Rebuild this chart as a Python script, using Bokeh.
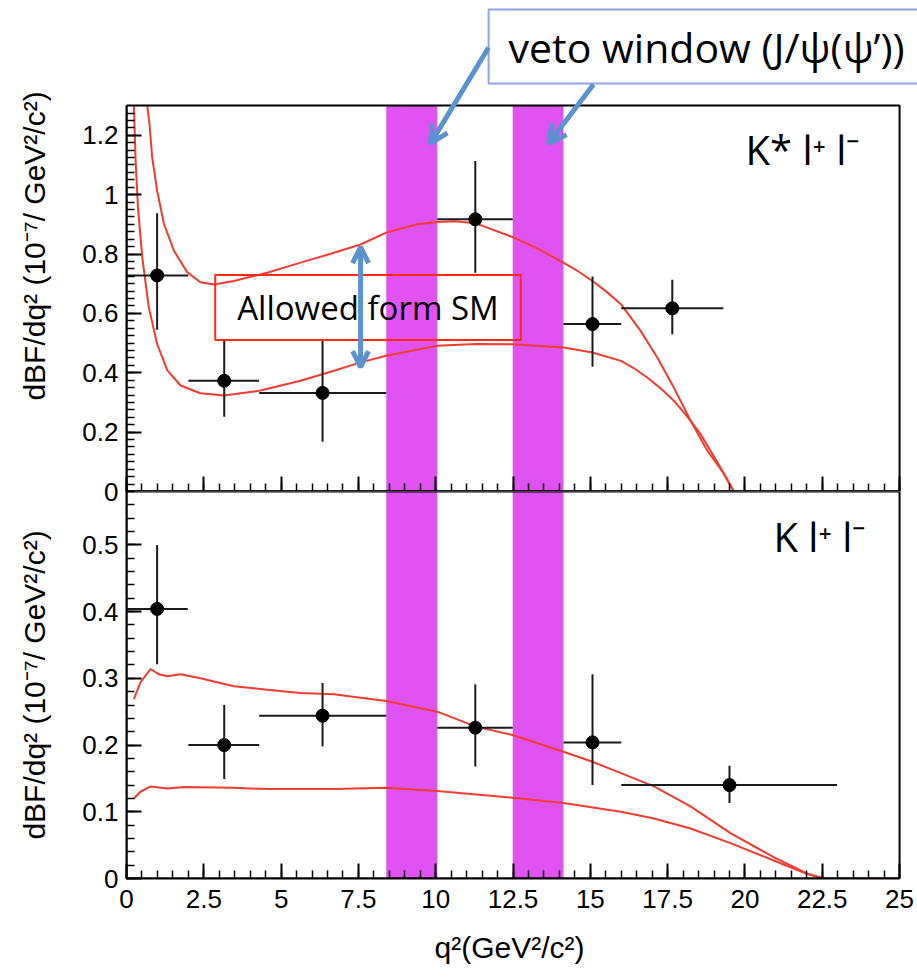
from bokeh.plotting import figure
from bokeh.layouts import column
from bokeh.models import (Range1d, SingleIntervalTicker, FixedTicker, NumeralTickFormatter,
                          Label, Arrow, OpenHead, LinearAxis, BoxAnnotation)
from bokeh.embed import file_html
from bokeh.resources import INLINE

# ---------------- data ----------------
x_max = 25.0
x_view_max = 25.58
kst_ymax = 1.3
k_ymax = 0.58

x_tick_values = [0, 2.5, 5, 7.5, 10, 12.5, 15, 17.5, 20, 22.5, 25]
x_minor_ticks = [i * 0.5 for i in range(51)]

veto_lo = [8.40, 12.49]
veto_hi = [10.05, 14.13]

# K* l+ l- measurements
kst_x = [0.99, 3.16, 6.34, 11.28, 15.07, 17.65]
kst_y = [0.728, 0.373, 0.332, 0.917, 0.564, 0.617]
kst_xlo = [0.0, 2.0, 4.29, 10.05, 14.13, 16.0]
kst_xhi = [2.0, 4.29, 8.40, 12.49, 16.0, 19.30]
kst_ylo = [0.545, 0.252, 0.168, 0.737, 0.420, 0.530]
kst_yhi = [0.937, 0.510, 0.510, 1.113, 0.724, 0.713]

# K* SM band curves
kst_up_x = [0.67, 0.744, 0.83, 0.99, 1.21, 1.53, 1.96, 2.39, 2.82, 3.47, 4.55,
            5.63, 6.71, 7.57, 8.40, 9.40, 10.05, 10.60, 11.28, 12.49, 13.30, 14.13, 14.60,
            15.07, 15.50, 15.99, 16.62, 17.16, 17.70, 18.24, 18.78, 19.32, 19.64]
kst_up_y = [1.30, 1.238, 1.126, 1.014, 0.902, 0.812, 0.739, 0.705, 0.697, 0.709, 0.737,
            0.771, 0.804, 0.832, 0.872, 0.900, 0.908, 0.910, 0.904, 0.857, 0.818, 0.771, 0.742,
            0.709, 0.675, 0.631, 0.542, 0.452, 0.350, 0.239, 0.138, 0.060, 0.0]
kst_lo_x = [0.24, 0.29, 0.37, 0.51, 0.72, 0.99, 1.32, 1.75, 2.39, 3.15, 4.33, 5.63,
            6.71, 7.57, 8.40, 10.05, 11.30, 12.49, 14.13, 15.07, 15.99, 16.40, 16.84,
            17.27, 17.70, 18.13, 18.56, 19.10, 19.64]
kst_lo_y = [1.30, 1.126, 0.958, 0.789, 0.621, 0.497, 0.408, 0.357, 0.331, 0.323, 0.340, 0.373,
            0.407, 0.435, 0.457, 0.491, 0.497, 0.496, 0.485, 0.468, 0.440, 0.416, 0.384,
            0.348, 0.306, 0.253, 0.194, 0.100, 0.0]

# K l+ l- measurements
k_x = [0.99, 3.16, 6.34, 11.28, 15.07, 19.50]
k_y = [0.404, 0.200, 0.244, 0.226, 0.204, 0.140]
k_xlo = [0.0, 2.0, 4.29, 10.05, 14.13, 16.0]
k_xhi = [1.98, 4.29, 8.40, 12.49, 16.0, 22.98]
k_ylo = [0.321, 0.149, 0.198, 0.168, 0.140, 0.113]
k_yhi = [0.500, 0.260, 0.293, 0.291, 0.306, 0.169]

# K SM band curves
k_up_x = [0.24, 0.45, 0.78, 1.05, 1.32, 1.75, 2.39, 3.47, 4.55, 5.63, 6.71, 7.57, 8.40,
          10.05, 11.28, 12.49, 14.13, 15.07, 15.99, 17.06, 18.24, 19.53, 20.93, 22.0, 22.55, 25.0]
k_up_y = [0.269, 0.294, 0.314, 0.306, 0.303, 0.306, 0.300, 0.288, 0.283, 0.278, 0.276, 0.271, 0.266,
          0.250, 0.228, 0.215, 0.190, 0.175, 0.158, 0.138, 0.108, 0.068, 0.032, 0.0075, 0.0, 0.0]
k_lo_x = [0.24, 0.45, 0.78, 1.32, 1.86, 3.47, 4.55, 6.71, 8.40, 10.05, 12.49, 14.13, 15.99,
          17.06, 18.24, 19.53, 20.93, 22.0, 22.55]
k_lo_y = [0.120, 0.130, 0.138, 0.135, 0.137, 0.136, 0.134, 0.134, 0.136, 0.131, 0.121, 0.113, 0.100,
          0.090, 0.075, 0.053, 0.027, 0.007, 0.0]

x_title = "q²(GeV²/c²)\u00a0\u00a0\u00a0"
y_title = "dBF/dq² (10⁻⁷/ GeV²/c²)"

# ---------------- style ----------------
RED = "#f03c30"
BAND = "#e052f2"
BLUE = "#5b93cf"
TICK_FONT = "Liberation Sans"


def style_axis(ax):
    ax.formatter = NumeralTickFormatter(format="0.[0]")
    ax.axis_line_width = 2
    ax.axis_line_color = "black"
    ax.major_tick_in = 15
    ax.major_tick_out = 0
    ax.minor_tick_in = 8
    ax.minor_tick_out = 0
    ax.major_tick_line_width = 2
    ax.minor_tick_line_width = 1.5
    ax.major_tick_line_color = "black"
    ax.minor_tick_line_color = "black"
    ax.major_label_text_font = TICK_FONT
    ax.major_label_text_font_size = "26px"
    ax.major_label_text_color = "black"
    ax.axis_label_text_font = TICK_FONT
    ax.axis_label_text_font_size = "30px"
    ax.axis_label_text_font_style = "normal"
    ax.axis_label_text_color = "black"


def style_fig(p, y_interval, y_minor, ymax):
    p.yaxis.ticker = SingleIntervalTicker(interval=y_interval, num_minor_ticks=y_minor)
    for ax in list(p.xaxis) + list(p.yaxis):
        style_axis(ax)
    p.yaxis.bounds = (0, ymax)
    p.xaxis.bounds = (0, x_max)
    p.yaxis.major_label_standoff = 8
    p.yaxis.axis_label = y_title
    p.yaxis.axis_label_standoff = 28
    p.xgrid.visible = False
    p.ygrid.visible = False
    p.outline_line_color = None
    p.background_fill_color = "white"
    p.add_layout(BoxAnnotation(left=0, right=x_max, bottom=0, top=ymax,
                               fill_alpha=0, line_color="black", line_alpha=1,
                               line_width=2))


def draw_panel(p, ymax, xs, ys, xlo, xhi, ylo, yhi, curves):
    p.quad(left=veto_lo, right=veto_hi, bottom=0, top=ymax,
           fill_color=BAND, line_color=None)
    for cx, cy in curves:
        p.line(cx, cy, line_color=RED, line_width=2)
    p.segment(x0=xlo, y0=ys, x1=xhi, y1=ys, line_color="#1a1a1a", line_width=2)
    p.segment(x0=xs, y0=ylo, x1=xs, y1=yhi, line_color="#1a1a1a", line_width=2)
    p.scatter(xs, ys, size=13, color="black")


# ---------------- top panel (K* l+ l-) ----------------
p1 = figure(width=917, height=505, output_backend="svg", toolbar_location=None,
            x_range=Range1d(0, x_view_max), y_range=Range1d(0, 1.654),
            min_border_left=126, min_border_right=0, min_border_top=0,
            min_border_bottom=14)
p1.xaxis.ticker = FixedTicker(ticks=[], minor_ticks=x_minor_ticks)
style_fig(p1, 0.2, 8, kst_ymax)
p1.border_fill_color = "white"
major_x = LinearAxis(ticker=FixedTicker(ticks=[], minor_ticks=x_tick_values))
style_axis(major_x)
major_x.minor_tick_in = 15
major_x.minor_tick_line_width = 2
major_x.bounds = (0, x_max)
p1.add_layout(major_x, "below")

draw_panel(p1, kst_ymax, kst_x, kst_y, kst_xlo, kst_xhi, kst_ylo, kst_yhi,
           [(kst_up_x, kst_up_y), (kst_lo_x, kst_lo_y)])

p1.add_layout(Label(x=7.81, y=0.620, text="Allowed form SM", text_font="Open Sans",
                    text_font_size="33px", text_align="center", text_baseline="middle",
                    text_color="black", border_line_color="#ff2a14", border_line_width=2,
                    padding=(22, 10)))
p1.add_layout(Arrow(x_start=7.57, y_start=0.419, x_end=7.57, y_end=0.823,
                    line_color=BLUE, line_width=5,
                    start=OpenHead(size=16, line_color=BLUE, line_width=5),
                    end=OpenHead(size=16, line_color=BLUE, line_width=5)))
p1.add_layout(Label(x=20.02, y=1.061, text="K* l⁺ l⁻", text_font="Open Sans",
                    text_font_size="40px", text_color="black"))

p1.add_layout(Label(x=11.71, y=1.499, text="veto window (J/ψ(ψ’))", text_font="Open Sans",
                    text_font_size="41px", text_align="left", text_baseline="middle",
                    text_color="black", background_fill_color="white",
                    border_line_color="#8fa3f2", border_line_width=2, padding=(20, 9)))
p1.add_layout(Arrow(x_start=11.71, y_start=1.4956, x_end=9.83, y_end=1.172,
                    line_color=BLUE, line_width=5,
                    end=OpenHead(size=18, line_color=BLUE, line_width=5)))
p1.add_layout(Arrow(x_start=15.10, y_start=1.371, x_end=13.65, y_end=1.172,
                    line_color=BLUE, line_width=5,
                    end=OpenHead(size=18, line_color=BLUE, line_width=5)))

# ---------------- bottom panel (K l+ l-) ----------------
p2 = figure(width=917, height=498, output_backend="svg", toolbar_location=None,
            x_range=Range1d(0, x_view_max), y_range=Range1d(0, k_ymax),
            min_border_left=126, min_border_right=0, min_border_top=14,
            min_border_bottom=97, styles={"margin-top": "-28px"})
p2.xaxis.ticker = SingleIntervalTicker(interval=2.5, num_minor_ticks=5)
style_fig(p2, 0.1, 5, k_ymax)
p2.border_fill_alpha = 0
p2.xaxis.axis_label = x_title
p2.xaxis.major_label_standoff = 11
p2.xaxis.axis_label_standoff = 20
draw_panel(p2, k_ymax, k_x, k_y, k_xlo, k_xhi, k_ylo, k_yhi,
           [(k_up_x, k_up_y), (k_lo_x, k_lo_y)])
p2.add_layout(Label(x=20.92, y=0.4717, text="K l⁺ l⁻", text_font="Open Sans",
                    text_font_size="40px", text_color="black"))

layout = column(p1, p2, spacing=0)
open("out.html", "w").write(file_html(layout, INLINE))
